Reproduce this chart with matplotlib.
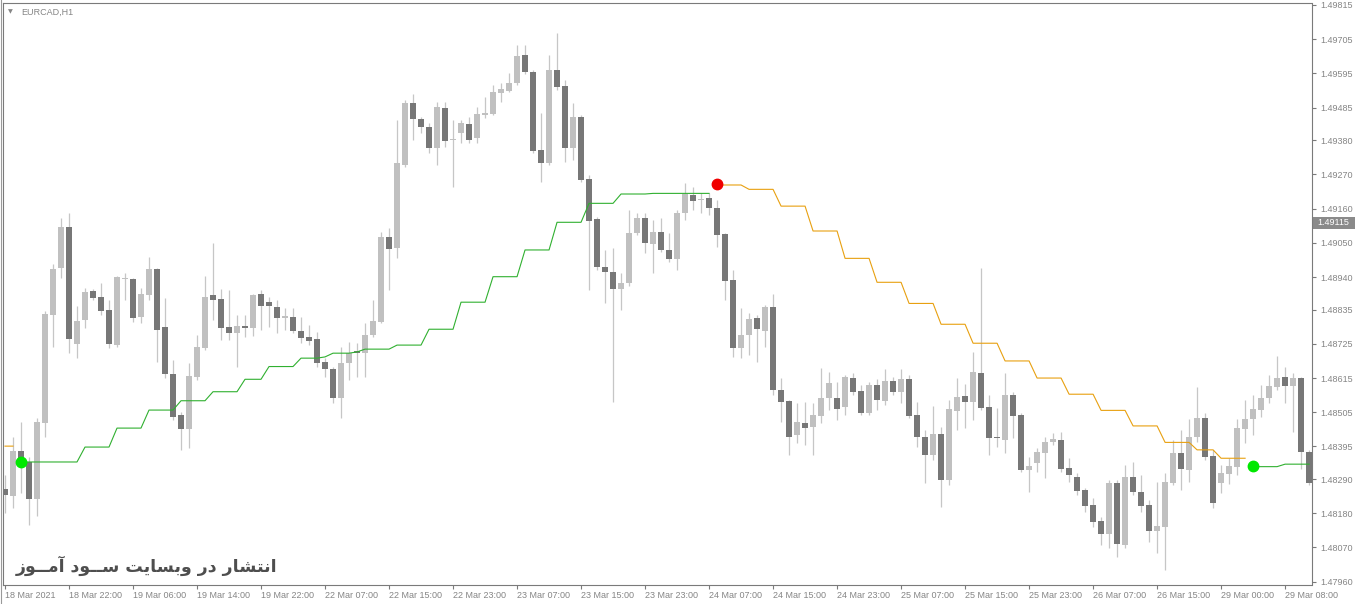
import numpy as np
import matplotlib.pyplot as plt
from matplotlib.patches import Rectangle
from matplotlib.transforms import blended_transform_factory

plt.rcParams['font.family'] = ['Liberation Sans', 'DejaVu Sans']

symbol = "EURCAD,H1"
watermark = "انتشار در وبسایت ســود آمــوز"

time_labels = ["18 Mar 2021", "18 Mar 22:00", "19 Mar 06:00", "19 Mar 14:00",
               "19 Mar 22:00", "22 Mar 07:00", "22 Mar 15:00", "22 Mar 23:00",
               "23 Mar 07:00", "23 Mar 15:00", "23 Mar 23:00", "24 Mar 07:00",
               "24 Mar 15:00", "24 Mar 23:00", "25 Mar 07:00", "25 Mar 15:00",
               "25 Mar 23:00", "26 Mar 07:00", "26 Mar 15:00", "29 Mar 00:00",
               "29 Mar 08:00"]
price_ticks = [1.49815, 1.49705, 1.49595, 1.49485, 1.49380, 1.49270, 1.49160,
               1.49050, 1.48940, 1.48835, 1.48725, 1.48615, 1.48505, 1.48395,
               1.48290, 1.48180, 1.48070, 1.47960]
last_price = 1.49115

# H1 candles, oldest first
opens = [1.48258, 1.48236, 1.48380, 1.48345, 1.48226, 1.48470, 1.48818, 1.48969, 1.49101, 1.48725,
         1.48802, 1.48895, 1.48876, 1.48834, 1.48721, 1.48934, 1.48934, 1.48811, 1.48882, 1.48966,
         1.48779, 1.48628, 1.48496, 1.48451, 1.48618, 1.48712, 1.48882, 1.48869, 1.48779, 1.48760,
         1.48782, 1.48776, 1.48885, 1.48860, 1.48844, 1.48808, 1.48811, 1.48766, 1.48747, 1.48741,
         1.48667, 1.48644, 1.48551, 1.48663, 1.48702, 1.48696, 1.48753, 1.48795, 1.49069, 1.49033,
         1.49300, 1.49500, 1.49448, 1.49422, 1.49355, 1.49484, 1.49381, 1.49403, 1.49432, 1.49387,
         1.49461, 1.49464, 1.49532, 1.49538, 1.49564, 1.49654, 1.49599, 1.49348, 1.49307, 1.49606,
         1.49554, 1.49355, 1.49455, 1.49255, 1.49127, 1.48972, 1.48956, 1.48901, 1.48921, 1.49082,
         1.49130, 1.49046, 1.49085, 1.49027, 1.48998, 1.49146, 1.49204, 1.49188, 1.49194, 1.49162,
         1.49078, 1.48930, 1.48712, 1.48753, 1.48808, 1.48766, 1.48844, 1.48577, 1.48541, 1.48432,
         1.48470, 1.48458, 1.48493, 1.48551, 1.48551, 1.48522, 1.48615, 1.48573, 1.48502, 1.48593,
         1.48541, 1.48605, 1.48570, 1.48612, 1.48496, 1.48425, 1.48367, 1.48435, 1.48287, 1.48509,
         1.48557, 1.48538, 1.48631, 1.48522, 1.48425, 1.48416, 1.48560, 1.48496, 1.48319, 1.48342,
         1.48374, 1.48409, 1.48416, 1.48326, 1.48297, 1.48255, 1.48207, 1.48155, 1.48113, 1.48277,
         1.48078, 1.48297, 1.48248, 1.48207, 1.48123, 1.48136, 1.48277, 1.48374, 1.48319, 1.48425,
         1.48487, 1.48364, 1.48277, 1.48306, 1.48329, 1.48451, 1.48483, 1.48512, 1.48551, 1.48586,
         1.48618, 1.48589, 1.48615, 1.48377]
highs = [1.48303, 1.48425, 1.48474, 1.48361, 1.48487, 1.48831, 1.48982, 1.49130, 1.49146, 1.48847,
         1.48905, 1.48901, 1.48921, 1.48866, 1.48943, 1.48953, 1.48937, 1.48905, 1.49004, 1.48969,
         1.48873, 1.48673, 1.48506, 1.48663, 1.48753, 1.48943, 1.49049, 1.48901, 1.48898, 1.48818,
         1.48818, 1.48885, 1.48898, 1.48876, 1.48866, 1.48840, 1.48840, 1.48811, 1.48786, 1.48763,
         1.48680, 1.48650, 1.48715, 1.48731, 1.48728, 1.48792, 1.48866, 1.49085, 1.49098, 1.49445,
         1.49509, 1.49529, 1.49455, 1.49435, 1.49503, 1.49503, 1.49445, 1.49445, 1.49455, 1.49487,
         1.49519, 1.49558, 1.49564, 1.49596, 1.49686, 1.49686, 1.49606, 1.49467, 1.49654, 1.49725,
         1.49574, 1.49500, 1.49461, 1.49268, 1.49133, 1.49027, 1.49033, 1.48953, 1.49155, 1.49146,
         1.49146, 1.49123, 1.49130, 1.49082, 1.49155, 1.49242, 1.49229, 1.49210, 1.49210, 1.49188,
         1.49082, 1.48963, 1.48840, 1.48824, 1.48818, 1.48850, 1.48885, 1.48615, 1.48544, 1.48535,
         1.48538, 1.48535, 1.48647, 1.48634, 1.48602, 1.48625, 1.48631, 1.48593, 1.48602, 1.48612,
         1.48644, 1.48618, 1.48644, 1.48625, 1.48538, 1.48448, 1.48525, 1.48458, 1.48544, 1.48615,
         1.48596, 1.48699, 1.48969, 1.48560, 1.48519, 1.48631, 1.48570, 1.48502, 1.48361, 1.48390,
         1.48425, 1.48438, 1.48441, 1.48358, 1.48309, 1.48261, 1.48229, 1.48168, 1.48287, 1.48287,
         1.48335, 1.48345, 1.48303, 1.48223, 1.48281, 1.48309, 1.48416, 1.48448, 1.48483, 1.48586,
         1.48502, 1.48384, 1.48335, 1.48358, 1.48483, 1.48544, 1.48560, 1.48593, 1.48625, 1.48686,
         1.48650, 1.48631, 1.48618, 1.48384]
lows = [1.48181, 1.48197, 1.48245, 1.48142, 1.48171, 1.48425, 1.48715, 1.48937, 1.48696, 1.48680,
        1.48776, 1.48866, 1.48818, 1.48712, 1.48715, 1.48866, 1.48795, 1.48792, 1.48866, 1.48667,
        1.48615, 1.48480, 1.48384, 1.48390, 1.48609, 1.48705, 1.48802, 1.48737, 1.48737, 1.48650,
        1.48747, 1.48750, 1.48770, 1.48779, 1.48760, 1.48770, 1.48760, 1.48728, 1.48721, 1.48650,
        1.48618, 1.48535, 1.48487, 1.48609, 1.48618, 1.48618, 1.48747, 1.48792, 1.48898, 1.49001,
        1.49294, 1.49381, 1.49403, 1.49339, 1.49300, 1.49358, 1.49229, 1.49371, 1.49371, 1.49371,
        1.49451, 1.49461, 1.49503, 1.49535, 1.49558, 1.49593, 1.49339, 1.49246, 1.49300, 1.49541,
        1.49310, 1.49316, 1.49246, 1.48898, 1.48963, 1.48856, 1.48538, 1.48834, 1.48911, 1.49075,
        1.49017, 1.48953, 1.49020, 1.48988, 1.48963, 1.49123, 1.49155, 1.49146, 1.49139, 1.49036,
        1.48866, 1.48683, 1.48680, 1.48689, 1.48667, 1.48715, 1.48560, 1.48474, 1.48367, 1.48406,
        1.48400, 1.48367, 1.48470, 1.48512, 1.48480, 1.48496, 1.48560, 1.48496, 1.48496, 1.48512,
        1.48528, 1.48560, 1.48535, 1.48487, 1.48393, 1.48277, 1.48351, 1.48200, 1.48271, 1.48448,
        1.48454, 1.48480, 1.48512, 1.48367, 1.48393, 1.48374, 1.48422, 1.48313, 1.48248, 1.48313,
        1.48293, 1.48400, 1.48313, 1.48281, 1.48239, 1.48184, 1.48136, 1.48078, 1.48068, 1.48039,
        1.48068, 1.48239, 1.48184, 1.48088, 1.48052, 1.47998, 1.48271, 1.48255, 1.48281, 1.48409,
        1.48351, 1.48197, 1.48245, 1.48274, 1.48303, 1.48406, 1.48432, 1.48490, 1.48535, 1.48577,
        1.48535, 1.48441, 1.48322, 1.48271]
closes = [1.48239, 1.48380, 1.48358, 1.48226, 1.48474, 1.48821, 1.48966, 1.49101, 1.48741, 1.48799,
          1.48892, 1.48873, 1.48831, 1.48725, 1.48940, 1.48937, 1.48808, 1.48885, 1.48966, 1.48770,
          1.48628, 1.48490, 1.48451, 1.48622, 1.48715, 1.48876, 1.48866, 1.48776, 1.48760, 1.48782,
          1.48776, 1.48882, 1.48847, 1.48847, 1.48808, 1.48815, 1.48766, 1.48744, 1.48734, 1.48663,
          1.48644, 1.48551, 1.48663, 1.48696, 1.48696, 1.48753, 1.48799, 1.49069, 1.49030, 1.49307,
          1.49500, 1.49448, 1.49422, 1.49355, 1.49487, 1.49378, 1.49384, 1.49435, 1.49381, 1.49464,
          1.49467, 1.49535, 1.49545, 1.49564, 1.49651, 1.49599, 1.49345, 1.49307, 1.49606, 1.49551,
          1.49355, 1.49455, 1.49252, 1.49120, 1.48972, 1.48956, 1.48901, 1.48921, 1.49082, 1.49130,
          1.49049, 1.49085, 1.49027, 1.48998, 1.49146, 1.49207, 1.49185, 1.49191, 1.49162, 1.49075,
          1.48927, 1.48712, 1.48753, 1.48805, 1.48773, 1.48844, 1.48577, 1.48538, 1.48425, 1.48474,
          1.48454, 1.48496, 1.48551, 1.48599, 1.48515, 1.48618, 1.48570, 1.48502, 1.48593, 1.48544,
          1.48605, 1.48570, 1.48612, 1.48493, 1.48425, 1.48367, 1.48435, 1.48287, 1.48515, 1.48554,
          1.48538, 1.48634, 1.48519, 1.48422, 1.48422, 1.48560, 1.48493, 1.48319, 1.48332, 1.48377,
          1.48409, 1.48419, 1.48322, 1.48303, 1.48252, 1.48203, 1.48152, 1.48113, 1.48277, 1.48081,
          1.48297, 1.48248, 1.48203, 1.48123, 1.48139, 1.48281, 1.48374, 1.48322, 1.48425, 1.48487,
          1.48361, 1.48213, 1.48309, 1.48332, 1.48454, 1.48483, 1.48515, 1.48551, 1.48589, 1.48615,
          1.48589, 1.48615, 1.48377, 1.48277]

# trailing stop levels: (first bar, last bar, price)
up_steps = [(2, 9, 1.48345), (10, 13, 1.48393), (14, 17, 1.48454), (18, 21, 1.48512),
            (22, 25, 1.48542), (26, 29, 1.48571), (30, 32, 1.48611), (33, 36, 1.48652),
            (37, 39, 1.48679), (40, 40, 1.48683), (41, 43, 1.48695), (44, 44, 1.48699),
            (45, 48, 1.48708), (49, 52, 1.48721), (53, 56, 1.48772), (57, 60, 1.48859),
            (61, 64, 1.48941), (65, 68, 1.49027), (69, 72, 1.49116), (73, 76, 1.49177),
            (77, 80, 1.49207), (81, 88, 1.49209), (156, 159, 1.48330), (160, 163, 1.48338)]
down_steps = [(0, 1, 1.48396), (89, 92, 1.49236), (93, 96, 1.49222), (97, 100, 1.49168),
              (101, 104, 1.49088), (105, 108, 1.49000), (109, 112, 1.48923), (113, 116, 1.48855),
              (117, 120, 1.48788), (121, 124, 1.48727), (125, 128, 1.48670), (129, 132, 1.48615),
              (133, 136, 1.48563), (137, 140, 1.48511), (141, 144, 1.48461), (145, 148, 1.48408),
              (149, 151, 1.48384), (152, 155, 1.48357)]
buy_bars = [2, 156]
buy_prices = [1.48345, 1.48333]
sell_bars = [89]
sell_prices = [1.49239]

# presentation forms: isolated, final, initial, medial (None = no forward join)
FORMS = {
    'ا': ('\ufe8d', '\ufe8e', None, None),
    'آ': ('\ufe81', '\ufe82', None, None),
    'د': ('\ufea9', '\ufeaa', None, None),
    'ر': ('\ufead', '\ufeae', None, None),
    'ز': ('\ufeaf', '\ufeb0', None, None),
    'و': ('\ufeed', '\ufeee', None, None),
    'ب': ('\ufe8f', '\ufe90', '\ufe91', '\ufe92'),
    'ت': ('\ufe95', '\ufe96', '\ufe97', '\ufe98'),
    'س': ('\ufeb1', '\ufeb2', '\ufeb3', '\ufeb4'),
    'ش': ('\ufeb5', '\ufeb6', '\ufeb7', '\ufeb8'),
    'م': ('\ufee1', '\ufee2', '\ufee3', '\ufee4'),
    'ن': ('\ufee5', '\ufee6', '\ufee7', '\ufee8'),
    'ی': ('\ufbfc', '\ufbfd', '\ufbfe', '\ufbff'),
    'ـ': ('ـ', 'ـ', 'ـ', 'ـ'),
}


def shape_rtl(text):
    # matplotlib has no arabic shaping, so pick joined glyphs by hand
    out = []
    for i, ch in enumerate(text):
        if ch not in FORMS:
            out.append(ch)
            continue
        prev = text[i - 1] if i > 0 else ''
        nxt = text[i + 1] if i + 1 < len(text) else ''
        join_prev = prev in FORMS and FORMS[prev][2] is not None
        join_next = nxt in FORMS and FORMS[ch][2] is not None
        iso, fin, ini, med = FORMS[ch]
        if join_prev and join_next:
            out.append(med)
        elif join_prev:
            out.append(fin)
        elif join_next:
            out.append(ini)
        else:
            out.append(iso)
    return ''.join(reversed(out))


n = len(closes)
x = np.arange(n)
o = np.array(opens)
c = np.array(closes)
up = c >= o

up_line = np.full(n, np.nan)
for a, b, v in up_steps:
    up_line[a:b + 1] = v
down_line = np.full(n, np.nan)
for a, b, v in down_steps:
    down_line[a:b + 1] = v

gray_txt = '#858585'
fig = plt.figure(figsize=(13.6, 6.04), dpi=100)
ax = fig.add_axes([3 / 1360, 19 / 604, 1308.5 / 1360, 582 / 604])
ax.set_xlim(-0.25, 163.3)
ax.set_ylim(1.479493, 1.498214)

# candles
ax.vlines(x, lows, highs, color='#c6c6c6', linewidth=0.9, zorder=1)
body = np.maximum(np.abs(c - o), 0.00003)
ax.bar(x, body, bottom=np.minimum(o, c), width=0.8,
       color=np.where(up, '#c0c0c0', '#777777'), linewidth=0, zorder=2)

# indicator
ax.plot(x, up_line, color='#30b030', linewidth=0.8, zorder=3)
ax.plot(x, down_line, color='#e8a010', linewidth=0.8, zorder=3)
ax.plot(buy_bars, buy_prices, 'o', color='#00e800', markersize=7.5, zorder=4)
ax.plot(sell_bars, sell_prices, 'o', color='#f00000', markersize=7.5, zorder=4)

for s in ax.spines.values():
    s.set_color('#7a7a7a')
    s.set_linewidth(0.8)

ax.set_xticks(np.arange(0, n, 8)[:len(time_labels)])
ax.set_xticklabels(time_labels)
for lbl in ax.get_xticklabels():
    lbl.set_ha('left')
ax.yaxis.tick_right()
ax.set_yticks(price_ticks)
ax.set_yticklabels([f'{p:.5f}' for p in price_ticks])
ax.tick_params(axis='both', colors='#7a7a7a', labelcolor=gray_txt, labelsize=6.5,
               length=3, width=0.8, direction='out')
ax.tick_params(axis='x', pad=1)
ax.tick_params(axis='y', pad=3)

# current price tag
tr = blended_transform_factory(ax.transAxes, ax.transData)
ax.add_patch(Rectangle((1.0012, last_price - 0.000195), 0.032, 0.00039,
                       transform=tr, facecolor='#8a8a8a', edgecolor='none', clip_on=False))
ax.text(1.0047, last_price, f'{last_price:.5f}', transform=tr, color='white',
        fontsize=6.5, ha='left', va='center')

ax.annotate('\u25bc', xy=(0, 1), xycoords='axes fraction', xytext=(5.3, -6.6),
            textcoords='offset points', ha='center', va='center', fontsize=4.5,
            color=gray_txt, family='DejaVu Sans')
ax.annotate(symbol, xy=(0, 1), xycoords='axes fraction', xytext=(13, -6.6),
            textcoords='offset points', ha='left', va='center', fontsize=6.5, color=gray_txt)

ax.text(0.0095, 0.032, shape_rtl(watermark), transform=ax.transAxes, ha='left', va='center',
        fontsize=12.5, fontweight='bold', color='#4e4e4e', family='DejaVu Sans')

fig.add_artist(plt.Line2D([0.0004, 0.0004], [0, 1], color='#9a9a9a', linewidth=0.8))

fig.savefig('out.png', dpi=100)
